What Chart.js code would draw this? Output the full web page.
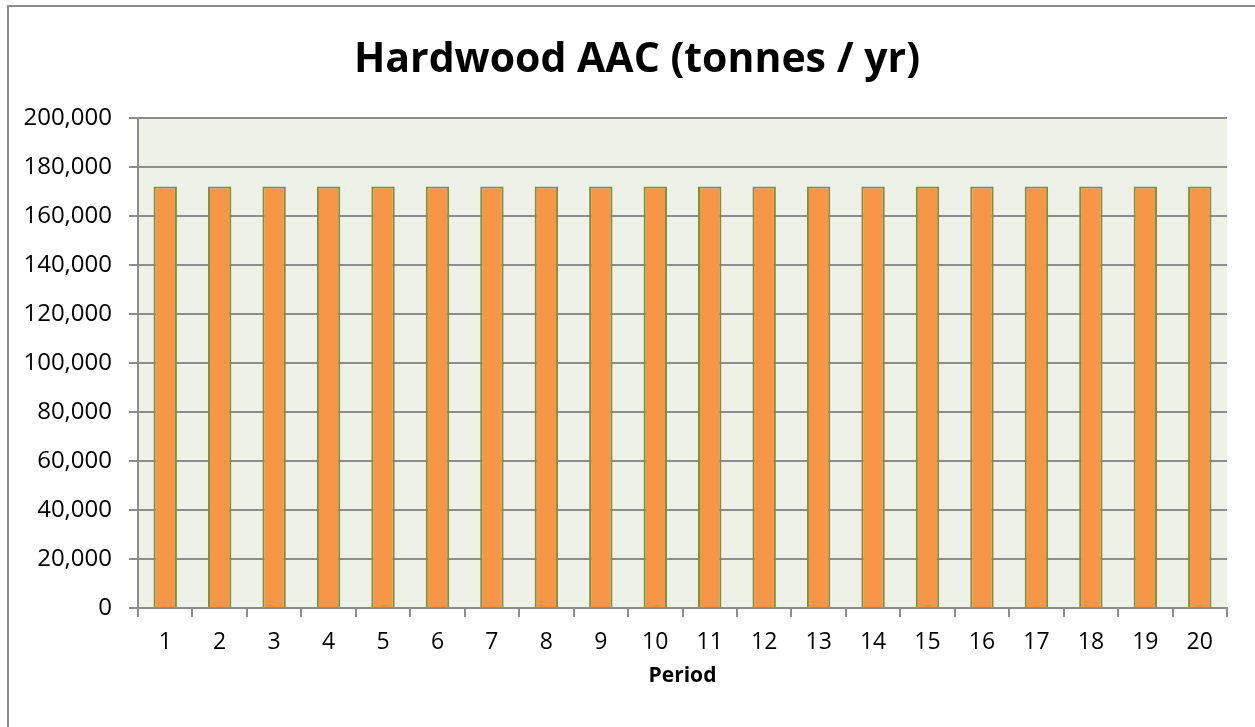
<!DOCTYPE html>
<html>
<head>
<meta charset="utf-8">
<script src="https://cdn.jsdelivr.net/npm/chart.js@4.4.0/dist/chart.umd.min.js"></script>
<style>
  html, body { margin: 0; padding: 0; background: #ffffff; overflow: hidden; }
  #wrap { position: relative; width: 1255px; height: 727px; }
  #frame { position: absolute; left: 7px; top: 5px; width: 1300px; height: 800px; border: 2px solid #8c8c8c; pointer-events: none; }
</style>
</head>
<body>
<div id="wrap">
  <canvas id="c" width="1255" height="727"></canvas>
  <div id="frame"></div>
</div>
<script>
const categories = ['1','2','3','4','5','6','7','8','9','10','11','12','13','14','15','16','17','18','19','20'];
const aacValues = [172000,172000,172000,172000,172000,172000,172000,172000,172000,172000,172000,172000,172000,172000,172000,172000,172000,172000,172000,172000];
const chartTitle = 'Hardwood AAC (tonnes / yr)';
const xAxisTitle = 'Period';

const FONT = "'Open Sans', 'DejaVu Sans', sans-serif";

const plotBg = {
  id: 'plotBg',
  beforeDraw(chart) {
    const {ctx, chartArea: a} = chart;
    ctx.save();
    ctx.fillStyle = '#EEF1E8';
    ctx.fillRect(a.left, a.top, a.right - a.left, a.bottom - a.top);
    ctx.restore();
  }
};

// Chart title centred on the framed chart box (as in the reference)
const frameTitle = {
  id: 'frameTitle',
  afterDraw(chart) {
    const ctx = chart.ctx;
    ctx.save();
    ctx.fillStyle = '#000000';
    ctx.font = "bold 41px " + FONT;
    ctx.textAlign = 'center';
    ctx.textBaseline = 'alphabetic';
    ctx.fillText(chartTitle, 637, 72);
    ctx.restore();
  }
};

new Chart(document.getElementById('c'), {
  type: 'bar',
  data: {
    labels: categories,
    datasets: [{
      label: 'Hardwood AAC',
      data: aacValues,
      backgroundColor: '#F79646',
      borderColor: '#77933C',
      borderWidth: 2,
      categoryPercentage: 1,
      barPercentage: 0.43
    }]
  },
  options: {
    responsive: false,
    animation: false,
    layout: { padding: { left: 0, right: 28, top: 118, bottom: 0 } },
    plugins: {
      legend: { display: false },
      tooltip: { enabled: false },
      title: { display: false }
    },
    scales: {
      x: {
        offset: true,
        grid: { offset: true, drawOnChartArea: false, drawTicks: true, tickLength: 9, color: '#8c8c8c', lineWidth: 2 },
        border: { display: true, color: '#8c8c8c', width: 2 },
        ticks: { color: '#000000', font: { family: FONT, size: 23 }, padding: 12, maxRotation: 0 },
        title: { display: true, text: xAxisTitle, color: '#000000', font: { family: FONT, size: 21, weight: 'bold', lineHeight: 1.2 }, padding: { top: 4, bottom: 38 } },
        afterFit(scale) { scale.height = 119; }
      },
      y: {
        min: 0,
        max: 200000,
        grid: { color: '#8c8c8c', lineWidth: 2, tickLength: 9 },
        border: { display: true, color: '#8c8c8c', width: 2 },
        ticks: {
          stepSize: 20000,
          color: '#000000',
          padding: 17,
          font: { family: FONT, size: 24 },
          callback: v => v.toLocaleString('en-US')
        },
        afterFit(scale) { scale.width = 138; }
      }
    }
  },
  plugins: [plotBg, frameTitle]
});
</script>
</body>
</html>
